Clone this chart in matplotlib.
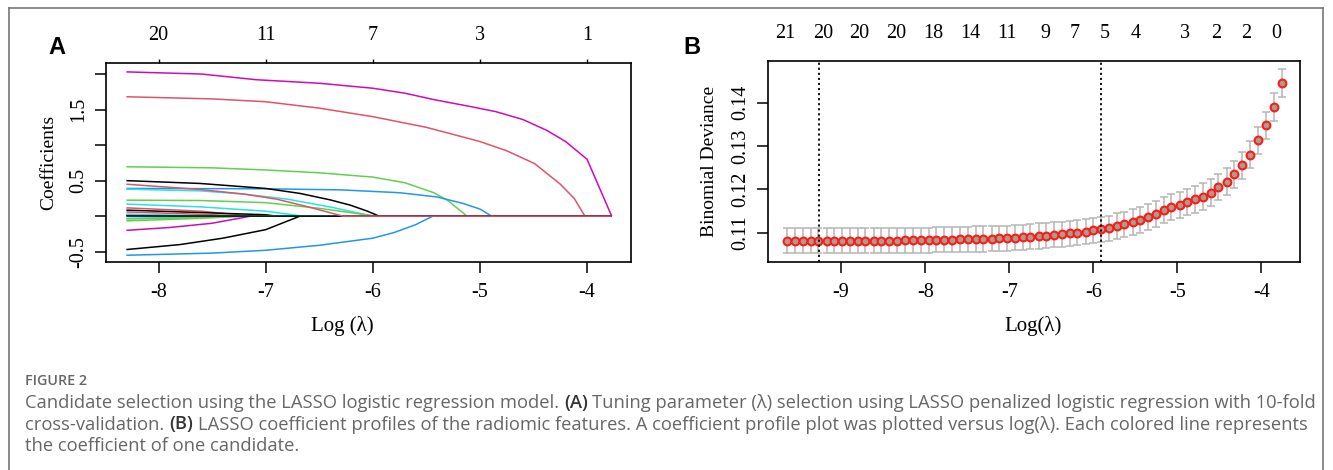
import numpy as np
import matplotlib.pyplot as plt
from matplotlib.lines import Line2D

plt.rcParams['font.family'] = ['Liberation Serif', 'DejaVu Serif']
plt.rcParams['axes.unicode_minus'] = False

# ---------- panel A: LASSO coefficient paths (knots)
coef_x = [
    [-8.30, -7.60, -7.09, -6.50, -6.00, -5.70, -5.43, -5.08, -4.85, -4.60, -4.38, -4.20, -4.00, -3.77],
    [-8.30, -7.50, -7.00, -6.50, -6.00, -5.50, -5.00, -4.75, -4.49, -4.25, -4.12, -4.02],
    [-8.30, -7.50, -7.00, -6.50, -6.00, -5.70, -5.43, -5.30, -5.12],
    [-8.30, -7.00, -6.30, -5.75, -5.40, -5.16, -5.00, -4.89],
    [-8.30, -7.60, -7.20, -6.80, -6.40, -6.00],
    [-8.30, -7.61, -7.00, -6.50, -5.97],
    [-8.30, -7.60, -7.00, -6.65],
    [-8.30, -7.60, -7.14],
    [-8.30, -7.60, -7.00, -6.90],
    [-8.30, -7.50, -7.20],
    [-8.30, -7.50],
    [-8.30, -7.60],
    [-8.30, -7.60, -7.30],
    [-8.30, -7.60, -7.20],
    [-8.30, -7.90, -7.50, -7.14],
    [-8.30, -7.80, -7.40, -7.00, -6.68],
    [-8.30, -7.50, -7.00, -6.50, -6.00, -5.80, -5.60, -5.44],
    [-8.30, -7.60, -7.20],
    [-8.30, -7.80, -7.30],
    [-8.30, -7.61, -7.00, -6.68, -6.40, -6.21, -6.05, -5.94],
    [-8.30, -6.28],
    [-8.30, -7.61, -7.20, -6.90, -6.60, -6.28],
]
coef_y = [
    [2.03, 2.00, 1.92, 1.87, 1.80, 1.73, 1.64, 1.54, 1.47, 1.36, 1.21, 1.05, 0.80, 0.0],
    [1.68, 1.65, 1.61, 1.52, 1.40, 1.25, 1.05, 0.92, 0.74, 0.45, 0.25, 0.0],
    [0.695, 0.68, 0.65, 0.61, 0.55, 0.47, 0.33, 0.22, 0.0],
    [0.39, 0.385, 0.37, 0.33, 0.27, 0.18, 0.10, 0.0],
    [0.38, 0.355, 0.31, 0.24, 0.13, 0.0],
    [0.225, 0.22, 0.19, 0.11, 0.0],
    [0.17, 0.13, 0.07, 0.0],
    [0.117, 0.07, 0.0],
    [0.085, 0.05, 0.02, 0.0],
    [0.06, 0.02, 0.0],
    [0.015, 0.0],
    [0.008, 0.0],
    [-0.03, -0.01, 0.0],
    [-0.066, -0.03, 0.0],
    [-0.20, -0.16, -0.10, 0.0],
    [-0.47, -0.40, -0.31, -0.19, 0.0],
    [-0.55, -0.52, -0.48, -0.41, -0.31, -0.23, -0.12, 0.0],
    [-0.04, -0.02, 0.0],
    [0.03, 0.01, 0.0],
    [0.50, 0.46, 0.39, 0.32, 0.23, 0.155, 0.07, 0.0],
    [0.003, 0.0],
    [0.45, 0.375, 0.31, 0.24, 0.13, 0.0],
]
coef_col = ['#CD0BBC', '#DF536B', '#61D04F', '#2297E6', '#28E2E5', '#61D04F',
            '#28E2E5', '#DF536B', '#000000', '#DF536B', '#2297E6', '#CD0BBC',
            '#28E2E5', '#61D04F', '#CD0BBC', '#000000', '#2297E6', '#61D04F',
            '#28E2E5', '#000000', '#000000', '#DF536B']
a_end = -3.77
a_top_pos = [-8, -7, -6, -5, -4]
a_top_lab = ['20', '11', '7', '3', '1']

# ---------- panel B: cross-validation curve
log_lam = [-9.64, -9.55, -9.45, -9.36, -9.27, -9.17, -9.08, -8.99, -8.89, -8.80,
           -8.71, -8.61, -8.52, -8.43, -8.33, -8.24, -8.15, -8.05, -7.96, -7.87,
           -7.77, -7.68, -7.59, -7.49, -7.40, -7.31, -7.21, -7.12, -7.03, -6.93,
           -6.84, -6.75, -6.65, -6.56, -6.47, -6.37, -6.28, -6.19, -6.09, -6.00,
           -5.91, -5.81, -5.72, -5.63, -5.53, -5.44, -5.35, -5.25, -5.16, -5.07,
           -4.97, -4.88, -4.79, -4.69, -4.60, -4.51, -4.41, -4.32, -4.23, -4.13,
           -4.04, -3.95, -3.85, -3.76]
cv_mean = [0.1081, 0.1081, 0.1081, 0.1081, 0.1081, 0.1081, 0.1081, 0.1081, 0.1081, 0.1081,
           0.1081, 0.1081, 0.1081, 0.1081, 0.1081, 0.1082, 0.1082, 0.1082, 0.1082, 0.1083,
           0.1083, 0.1083, 0.1084, 0.1084, 0.1085, 0.1085, 0.1086, 0.1087, 0.1087, 0.1088,
           0.1089, 0.1090, 0.1092, 0.1093, 0.1095, 0.1096, 0.1098, 0.1100, 0.1102, 0.1105,
           0.1108, 0.1110, 0.1115, 0.1119, 0.1124, 0.1129, 0.1136, 0.1142, 0.1151, 0.1159,
           0.1164, 0.1170, 0.1177, 0.1183, 0.1192, 0.1205, 0.1217, 0.1234, 0.1255, 0.1280,
           0.1313, 0.1348, 0.1389, 0.1446]
cv_se = [0.0029] * 40 + [0.0029, 0.0029, 0.0029, 0.0029, 0.0030, 0.0030, 0.0030, 0.0030,
                         0.0030, 0.0030, 0.0030, 0.0030, 0.0031, 0.0031, 0.0031, 0.0031,
                         0.0031, 0.0031, 0.0031, 0.0031, 0.0031, 0.0031, 0.0032, 0.0032]
lam_min = -9.26
lam_1se = -5.91
b_top_pos = [-9.66, -9.21, -8.78, -8.35, -7.90, -7.46, -7.03, -6.57, -6.22, -5.86,
             -5.50, -4.91, -4.54, -4.18, -3.82]
b_top_lab = ['21', '20', '20', '20', '18', '14', '11', '9', '7', '5', '4', '3', '2', '2', '0']

W, H = 1333, 470
fig = plt.figure(figsize=(W / 100, H / 100), dpi=100)

def px_axes(l, t, r, b):
    return fig.add_axes([l / W, 1 - b / H, (r - l) / W, (b - t) / H])

tick_fs = 14.5

# ---------- A
axA = px_axes(106, 63, 631, 262)
for xs, ys, c in zip(coef_x, coef_y, coef_col):
    xs = list(xs) + [a_end]
    ys = list(ys) + [0.0]
    axA.plot(xs, ys, color=c, lw=1.1, solid_capstyle='butt', solid_joinstyle='round')
axA.set_xlim(-8.49, -3.59)
axA.set_ylim(-0.645, 2.155)
axA.set_xticks([-8, -7, -6, -5, -4])
axA.set_yticks([-0.5, 0, 0.5, 1.0, 1.5, 2.0])
axA.set_yticklabels(['-0.5', '', '0.5', '', '1.5', ''])
topA = axA.secondary_xaxis('top')
topA.set_xticks(a_top_pos, labels=a_top_lab)
topA.tick_params(length=3, width=1, pad=10, labelsize=tick_fs)
axA.set_ylabel('Coefficients', fontsize=14)
axA.set_xlabel('Log (λ)', fontsize=15)
axA.yaxis.set_label_coords(-0.093, 0.5)
axA.xaxis.set_label_coords(0.451, -0.27)

# ---------- B
axB = px_axes(768, 61, 1300, 262)
axB.errorbar(log_lam, cv_mean, yerr=cv_se, fmt='none', ecolor='#b5b5b5',
             elinewidth=1.1, capsize=3.2, capthick=1.1, zorder=2)
axB.plot(log_lam, cv_mean, 'o', ms=5.6, mfc='#a59f88', mec='#ff1a1a', mew=1.5, zorder=3)
axB.axvline(lam_min, color='black', ls=(0, (1.2, 1.6)), lw=1.3, zorder=4)
axB.axvline(lam_1se, color='black', ls=(0, (1.2, 1.6)), lw=1.3, zorder=4)
axB.set_xlim(-9.87, -3.54)
axB.set_ylim(0.1032, 0.1496)
axB.set_xticks([-9, -8, -7, -6, -5, -4])
axB.set_yticks([0.11, 0.12, 0.13, 0.14])
axB.set_yticklabels(['0.11', '0.12', '0.13', '0.14'])
topB = axB.secondary_xaxis('top')
topB.set_xticks(b_top_pos, labels=b_top_lab)
topB.tick_params(length=0, pad=13, labelsize=tick_fs)
axB.set_ylabel('Binomial Deviance', fontsize=14)
axB.set_xlabel('Log(λ)', fontsize=15)
axB.yaxis.set_label_coords(-0.094, 0.5)
axB.xaxis.set_label_coords(0.498, -0.27)

for ax in (axA, axB):
    for s in ax.spines.values():
        s.set_linewidth(1.2)
    ax.tick_params(axis='both', direction='out', length=8, width=1.1, labelsize=tick_fs)
    ax.tick_params(axis='x', pad=7)
    ax.tick_params(axis='y', pad=5)
    for lab in ax.get_yticklabels():
        lab.set_rotation(90)
        lab.set_va('center')
topA.spines['top'].set_visible(False)
topB.spines['top'].set_visible(False)

# panel letters
fig.text(57 / W, 1 - 47 / H, 'A', fontsize=17, fontweight='bold',
         family=['Liberation Sans', 'DejaVu Sans'], ha='center', va='center')
fig.text(692 / W, 1 - 47 / H, 'B', fontsize=17, fontweight='bold',
         family=['Liberation Sans', 'DejaVu Sans'], ha='center', va='center')

# outer frame
fc = '#777777'
fig.add_artist(Line2D([9 / W, 9 / W], [0, 1 - 8 / H], color=fc, lw=1.2, transform=fig.transFigure))
fig.add_artist(Line2D([9 / W, 1323 / W], [1 - 8 / H, 1 - 8 / H], color=fc, lw=1.2, transform=fig.transFigure))
fig.add_artist(Line2D([1323 / W, 1323 / W], [0, 1 - 8 / H], color=fc, lw=1.2, transform=fig.transFigure))

# caption
cap_font = ['Open Sans', 'DejaVu Sans']
cap_col = '#666666'
cap_fs = 13.2
renderer = fig.canvas.get_renderer()

def width_px(s, weight):
    t = fig.text(0, 0, s, fontsize=cap_fs, family=cap_font, fontweight=weight)
    w = t.get_window_extent(renderer).width
    t.remove()
    return w

space_w = width_px('a a', 'normal') - width_px('aa', 'normal')

def rich_line(y, parts):
    x = 25
    for s, bold in parts:
        lead = len(s) - len(s.lstrip(' '))
        trail = len(s) - len(s.rstrip(' '))
        core = s.strip(' ')
        x += lead * space_w
        w = 'semibold' if bold else 'normal'
        col = '#333333' if bold else cap_col
        t = fig.text(x / W, 1 - y / H, core, fontsize=cap_fs, family=cap_font,
                     fontweight=w, color=col, va='center')
        x += t.get_window_extent(renderer).width + trail * space_w

fig.text(25 / W, 1 - 381 / H, 'FIGURE 2', fontsize=10.3, family=cap_font,
         fontweight='semibold', color='#666666', va='center')
rich_line(403, [('Candidate selection using the LASSO logistic regression model. ', False),
                ('(A)', True),
                (' Tuning parameter (λ) selection using LASSO penalized logistic regression with 10-fold', False)])
rich_line(424.5, [('cross-validation. ', False), ('(B)', True),
                  (' LASSO coefficient profiles of the radiomic features. A coefficient profile plot was plotted versus log(λ). Each colored line represents', False)])
rich_line(446, [('the coefficient of one candidate.', False)])

fig.savefig('out.png', dpi=100)
